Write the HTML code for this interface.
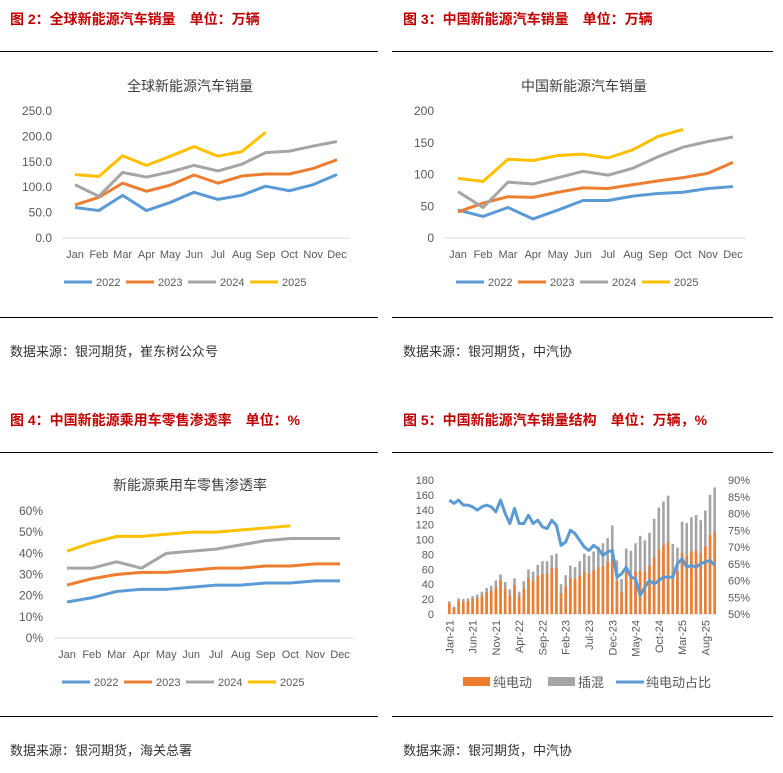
<!DOCTYPE html>
<html><head><meta charset="utf-8"><style>
body{margin:0;width:783px;height:773px;background:#fff;font-family:"Liberation Sans","Noto Sans CJK SC",sans-serif;overflow:hidden}
svg{position:absolute;left:0;top:0}
</style></head><body>
<svg id="s" width="783" height="773"></svg>
<script>
const months=["Jan","Feb","Mar","Apr","May","Jun","Jul","Aug","Sep","Oct","Nov","Dec"];
const years=["2022","2023","2024","2025"];
const colors=["#5B9BD5","#ED7D31","#A5A5A5","#FFC000"];
const global22=[60,54,84,54,70,90,76,84,102,93,105,125];
const global23=[65,80,108,92,104,124,108,122,126,126,137,154];
const global24=[105,82,129,120,130,143,132,145,168,171,181,190];
const global25=[125,121,162,143,161,180,161,170,208];
const globalTicks=["0.0","50.0","100.0","150.0","200.0","250.0"];
const china22=[44,34,48,30,44,59,59,66,70,72,78,81];
const china23=[41,55,65,64,72,79,78,84,90,95,102,119];
const china24=[73,48,88,85,95,105,99,110,128,143,152,159];
const china25=[94,89,124,122,130,132,126,139,160,171];
const chinaTicks=["0","50","100","150","200"];
const pen22=[17,19,22,23,23,24,25,25,26,26,27,27];
const pen23=[25,28,30,31,31,32,33,33,34,34,35,35];
const pen24=[33,33,36,33,40,41,42,44,46,47,47,47];
const pen25=[41,45,48,48,49,50,50,51,52,53];
const penTicks=["0%","10%","20%","30%","40%","50%","60%"];
const structLabels=["Jan-21","Jun-21","Nov-21","Apr-22","Sep-22","Feb-23","Jul-23","Dec-23","May-24","Oct-24","Mar-25","Aug-25"];
const structTotal=[17,10,21,20,21,24,26,30,35,38,45,53,43,33,48,30,44,60,57,66,71,71,79,81,40,52,65,63,71,81,78,84,90,95,102,119,72,47,88,85,95,105,99,109,128,143,151,159,94,89,124,122,130,133,126,139,160,170];
const structBev=[14,8,18,16,17,20,21,25,29,31,36,45,34,25,39,23,34,48,44,51,54,54,62,62,28,37,49,47,51,57,54,59,63,64,70,82,44,29,56,52,57,58,57,65,76,86,92,97,57,58,82,78,84,85,82,91,106,110];
const structShare=[84,83,84,82.5,82.5,82,81,82,82.5,82,80.5,84,80,77,81.5,77,77,79.5,77,78,76,75.5,78,76.5,70.5,71.5,75,74,72,70,69,70.5,69.5,67.5,68.5,69,61,62,64,61,60.5,55.5,58,60,59,60,61,61,61,65,66.5,64,64.5,64,65,65.5,66,64.5];
const leftTicks=["0","20","40","60","80","100","120","140","160","180"];
const rightTicks=["50%","55%","60%","65%","70%","75%","80%","85%","90%"];

const S=document.getElementById('s');const NS="http://www.w3.org/2000/svg";
function el(t,a,p){const e=document.createElementNS(NS,t);for(const k in a)e.setAttribute(k,a[k]);(p||S).appendChild(e);return e;}
function txt(x,y,s,a){const e=el('text',Object.assign({x:x,y:y,'font-size':12,fill:'#595959'},a||{}));e.textContent=s;return e;}

const heads=[[10,24,"图 2：全球新能源汽车销量　单位：万辆","title-fig2"],[403,24,"图 3：中国新能源汽车销量　单位：万辆","title-fig3"],[10,425,"图 4：中国新能源乘用车零售渗透率　单位：%","title-fig4"],[403,425,"图 5：中国新能源汽车销量结构　单位：万辆，%","title-fig5"]];
heads.forEach(h=>{const t=txt(h[0],h[1],h[2],{'font-size':14,'font-weight':'bold',fill:'#C00000'});});
[[0,378,51.5],[392,773,51.5],[0,378,317.5],[392,773,317.5],[0,378,452.5],[392,773,452.5],[0,378,716.5],[392,773,716.5]].forEach(l=>{const e=el('line',{x1:l[0],x2:l[1],y1:l[2],y2:l[2],stroke:'#000','stroke-width':1});});
const srcs=[[10,356,"数据来源：银河期货，崔东树公众号"],[403,356,"数据来源：银河期货，中汽协"],[10,755,"数据来源：银河期货，海关总署"],[403,755,"数据来源：银河期货，中汽协"]];
srcs.forEach(s=>{const t=txt(s[0],s[1],s[2],{'font-size':13,fill:'#333'});});

function lineChart(o){
  const g=el('g',{});
  const t=txt(o.cx,o.ty,o.title,{'font-size':14,'text-anchor':'middle',fill:'#404040'},g);
  const yS=v=>o.y0-(v-o.vmin)/(o.vmax-o.vmin)*(o.y0-o.y1);
  const xS=i=>o.x0+i*(o.x1-o.x0)/11;
  o.ticks.forEach((s,i)=>{const v=o.vmin+i*(o.vmax-o.vmin)/(o.ticks.length-1);const tt=txt(o.ylx,yS(v)+4,s,{'text-anchor':'end'},g);});
  const ax=el('line',{x1:o.x0-13,x2:o.x1+13,y1:o.y0,y2:o.y0,stroke:'#D9D9D9'},g);
  months.forEach((m,i)=>{const tt=txt(xS(i),o.y0+20,m,{'text-anchor':'middle',"font-size":11},g);});
  o.series.forEach((d,k)=>{const p=el('polyline',{points:d.map((v,i)=>xS(i)+','+yS(v)).join(' '),fill:'none',stroke:colors[k],'stroke-width':3,'stroke-linejoin':'round'},g);});
  years.forEach((y,k)=>{const lx=o.lx+k*62;const l=el('line',{x1:lx,x2:lx+28,y1:o.ly,y2:o.ly,stroke:colors[k],'stroke-width':3},g);const tt=txt(lx+32,o.ly+4,y,{'font-size':11},g);});
}
lineChart({name:'global-sales-chart',title:'全球新能源汽车销量',cx:190,ty:91,x0:75,x1:337,y0:238,y1:111,vmin:0,vmax:250,ticks:globalTicks,ylx:52,series:[global22,global23,global24,global25],lx:64,ly:282});
lineChart({name:'china-sales-chart',title:'中国新能源汽车销量',cx:584,ty:91,x0:458,x1:733,y0:238,y1:111,vmin:0,vmax:200,ticks:chinaTicks,ylx:434,series:[china22,china23,china24,china25],lx:456,ly:282});
lineChart({name:'penetration-chart',title:'新能源乘用车零售渗透率',cx:190,ty:490,x0:67,x1:340,y0:638,y1:511,vmin:0,vmax:60,ticks:penTicks,ylx:43,series:[pen22,pen23,pen24,pen25],lx:62,ly:682});

(function(){
  const g=el('g',{});
  const x0=447,x1=717,y0=614,y1=480,n=structTotal.length,bw=(x1-x0)/n;
  const yL=v=>y0-v/180*(y0-y1);const yR=p=>y0-(p-50)/40*(y0-y1);const xS=i=>x0+(i+0.5)*bw;
  leftTicks.forEach((s,i)=>{const t=txt(434,yL(i*20)+4,s,{'text-anchor':'end','font-size':11},g);});
  rightTicks.forEach((s,i)=>{const t=txt(728,yR(50+i*5)+4,s,{'font-size':11},g);});
  const ax=el('line',{x1:x0,x2:x1,y1:y0,y2:y0,stroke:'#D9D9D9'},g);
  structTotal.forEach((v,i)=>{const r=el('rect',{x:xS(i)-1.3,y:yL(v),width:2.6,height:y0-yL(v),fill:'#A5A5A5'},g);
    const b=el('rect',{x:xS(i)-1.3,y:yL(structBev[i]),width:2.6,height:y0-yL(structBev[i]),fill:'#ED7D31'},g);});
  const p=el('polyline',{points:structShare.map((v,i)=>xS(i)+','+yR(v)).join(' '),fill:'none',stroke:'#5B9BD5','stroke-width':3,'stroke-linejoin':'round'},g);
  structLabels.forEach((s,k)=>{const x=xS(k*5)+4;const t=txt(x,y0+6,s,{'font-size':11,'text-anchor':'end',transform:'rotate(-90 '+x+' '+(y0+6)+')'},g);});
  const leg=[[463,'rect','#ED7D31','纯电动'],[548,'rect','#A5A5A5','插混'],[616,'line','#5B9BD5','纯电动占比']];
  leg.forEach(l=>{let m;if(l[1]=='rect')m=el('rect',{x:l[0],y:677,width:27,height:9,fill:l[2]},g);else m=el('line',{x1:l[0],x2:l[0]+28,y1:682,y2:682,stroke:l[2],'stroke-width':3},g);const t=txt(l[0]+30,687,l[3],{'font-size':13},g);});
})();
</script>
</body></html>
